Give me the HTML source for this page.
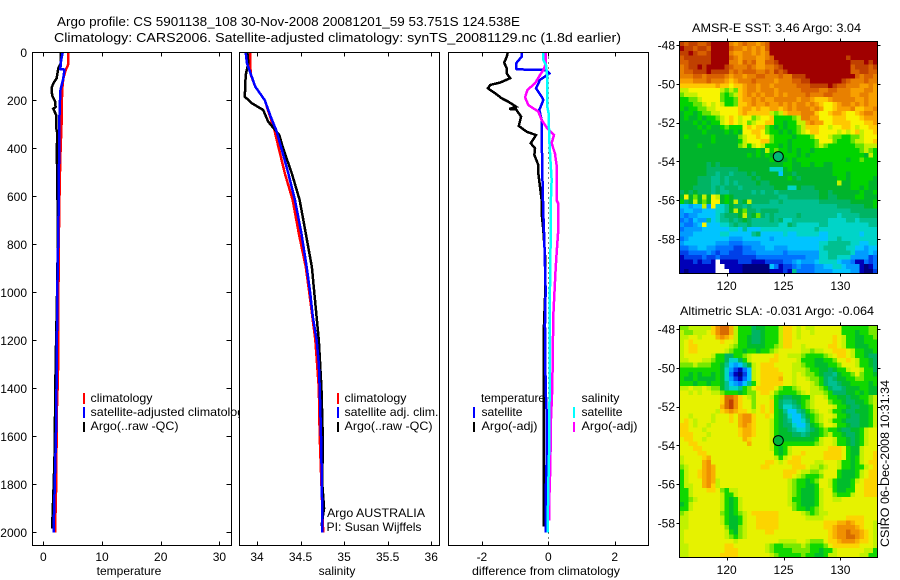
<!DOCTYPE html>
<html>
<head>
<meta charset="utf-8">
<title>Argo profile</title>
<style>
html,body{margin:0;padding:0;background:#fff;width:900px;height:580px;overflow:hidden}
svg{display:block}
text{font-family:"Liberation Sans",sans-serif;font-size:12px;fill:#000}
.frame{fill:none;stroke:#000;stroke-width:1.3;shape-rendering:crispEdges}
.panel-bg{fill:#fff;stroke:none}
.mark{shape-rendering:crispEdges}
</style>
</head>
<body>
<svg id="chart" width="900" height="580" viewBox="0 0 900 580" xmlns="http://www.w3.org/2000/svg">
  <rect x="0" y="0" width="900" height="580" fill="#fff"/>
  <text x="57" y="26" font-size="13" style="font-size:13px" textLength="463" lengthAdjust="spacingAndGlyphs">Argo profile: CS 5901138_108 30-Nov-2008 20081201_59 53.751S 124.538E</text>
  <text x="54" y="42" style="font-size:13px" textLength="567" lengthAdjust="spacingAndGlyphs">Climatology: CARS2006. Satellite-adjusted climatology: synTS_20081129.nc (1.8d earlier)</text>

  <g id="panel-temp">
    <rect class="panel-bg" x="32.5" y="52.5" width="199" height="493"/>
    <rect class="mark" x="83" y="393" width="2" height="11" fill="#ff0000"/>
    <rect class="mark" x="83" y="407" width="2" height="11" fill="#0000ff"/>
    <rect class="mark" x="83" y="422" width="2" height="10" fill="#000"/>
    <text x="90.5" y="402" textLength="62" lengthAdjust="spacingAndGlyphs">climatology</text>
    <text x="90.5" y="416" textLength="160" lengthAdjust="spacingAndGlyphs">satellite-adjusted climatology</text>
    <text x="90.5" y="430" textLength="88" lengthAdjust="spacingAndGlyphs">Argo(..raw -QC)</text>
    <g id="lines-temp"></g>
    <rect class="frame" x="32.5" y="52.5" width="199" height="493"/>
    <g id="ticks-temp"></g>
    <text x="129" y="575" text-anchor="middle">temperature</text>
  </g>

  <g id="panel-sal">
    <rect class="panel-bg" x="239.5" y="52.5" width="200" height="493"/>
    <rect class="mark" x="337" y="393" width="2" height="11" fill="#ff0000"/>
    <rect class="mark" x="337" y="407" width="2" height="11" fill="#0000ff"/>
    <rect class="mark" x="337" y="422" width="2" height="10" fill="#000"/>
    <text x="344.5" y="402" textLength="62" lengthAdjust="spacingAndGlyphs">climatology</text>
    <text x="344.5" y="416" textLength="94" lengthAdjust="spacingAndGlyphs">satellite adj. clim.</text>
    <text x="344.5" y="430" textLength="88" lengthAdjust="spacingAndGlyphs">Argo(..raw -QC)</text>
    <text x="327" y="517" textLength="98" lengthAdjust="spacingAndGlyphs">Argo AUSTRALIA</text>
    <text x="326.5" y="531" textLength="95" lengthAdjust="spacingAndGlyphs">PI: Susan Wijffels</text>
    <g id="lines-sal"></g>
    <rect class="frame" x="239.5" y="52.5" width="200" height="493"/>
    <g id="ticks-sal"></g>
    <text x="337" y="575" text-anchor="middle">salinity</text>
  </g>

  <g id="panel-diff">
    <rect class="panel-bg" x="448.5" y="52.5" width="200" height="493"/>
    <text x="481" y="402" textLength="64" lengthAdjust="spacingAndGlyphs">temperature</text>
    <rect class="mark" x="473" y="407" width="2" height="11" fill="#0000ff"/>
    <rect class="mark" x="473" y="422" width="2" height="10" fill="#000"/>
    <text x="481.5" y="416" textLength="41" lengthAdjust="spacingAndGlyphs">satellite</text>
    <text x="481.5" y="430" textLength="56" lengthAdjust="spacingAndGlyphs">Argo(-adj)</text>
    <text x="581.5" y="402" textLength="38" lengthAdjust="spacingAndGlyphs">salinity</text>
    <rect class="mark" x="573" y="407" width="2" height="11" fill="#00ffff"/>
    <rect class="mark" x="573" y="422" width="2" height="10" fill="#ff00ff"/>
    <text x="581.5" y="416" textLength="41" lengthAdjust="spacingAndGlyphs">satellite</text>
    <text x="581.5" y="430" textLength="56" lengthAdjust="spacingAndGlyphs">Argo(-adj)</text>
    <g id="lines-diff"></g>
    <rect class="frame" x="448.5" y="52.5" width="200" height="493"/>
    <g id="ticks-diff"></g>
    <text x="546" y="575" text-anchor="middle" textLength="148" lengthAdjust="spacingAndGlyphs">difference from climatology</text>
  </g>

  <g id="map-sst"></g>
  <text x="692" y="32" textLength="169" lengthAdjust="spacingAndGlyphs">AMSR-E SST: 3.46 Argo: 3.04</text>

  <g id="map-sla"></g>
  <text x="680" y="315" textLength="194" lengthAdjust="spacingAndGlyphs">Altimetric SLA: -0.031 Argo: -0.064</text>

  <text transform="translate(889,547) rotate(-90)" textLength="167" lengthAdjust="spacingAndGlyphs">CSIRO 06-Dec-2008 10:31:34</text>
</svg>

<script>
// ---------- axis tick values ----------
const depthTicks = [0, 200, 400, 600, 800, 1000, 1200, 1400, 1600, 1800, 2000];
const tempTicks = [0, 10, 20, 30];
const salTicks = [34, 34.5, 35, 35.5, 36];
const salTickLabels = ['34', '34.5', '35', '35.5', '36'];
const diffTicks = [-2, 0, 2];
const lonTicks = [120, 125, 130];
const latTicks = [48, 50, 52, 54, 56, 58];

// ---------- temperature panel ----------
const tempClimDepth = [0, 50, 75, 110, 160, 270, 325, 435, 670, 920, 1150, 1350, 1500, 1800, 2000];
const tempClimValue = [4.26, 4.26, 3.8, 3.4, 3.2, 3.15, 3.07, 2.9, 2.7, 2.6, 2.55, 2.5, 2.3, 2.2, 2.0];
const tempArgoDepth = [0, 45, 67, 108, 130, 147, 180, 205, 228, 235, 262, 315, 340, 400, 585, 740, 1000, 1300, 1500, 1650, 1800, 1950, 1985];
const tempArgoValue = [3.0, 3.0, 2.55, 2.27, 1.7, 1.43, 1.5, 2.0, 2.1, 1.7, 2.2, 2.2, 2.4, 2.3, 2.4, 2.5, 2.35, 2.1, 2.0, 1.95, 1.77, 1.55, 1.55];
const tempSatDepth = [0, 40, 70, 72, 110, 160, 270, 670, 980, 1400, 1550, 1800, 2000];
const tempSatValue = [3.3, 3.0, 2.9, 3.6, 3.4, 2.9, 2.75, 2.6, 2.4, 2.25, 2.2, 1.95, 1.75];

// ---------- salinity panel ----------
const salClimDepth = [0, 46, 95, 143, 200, 268, 324, 400, 505, 616, 755, 894, 1000, 1200, 1400, 1600, 1800, 2000];
const salClimValue = [33.92, 33.92, 33.93, 33.98, 34.09, 34.15, 34.2, 34.25, 34.32, 34.41, 34.48, 34.56, 34.6, 34.67, 34.71, 34.72, 34.74, 34.76];
const salArgoDepth = [0, 46, 95, 185, 212, 240, 290, 324, 345, 400, 505, 616, 755, 894, 991, 1200, 1400, 1600, 1800, 1900, 1975];
const salArgoValue = [33.89, 33.9, 33.87, 33.86, 33.94, 34.07, 34.13, 34.21, 34.256, 34.3, 34.4, 34.49, 34.56, 34.63, 34.655, 34.71, 34.74, 34.755, 34.75, 34.77, 34.74];
const salSatDepth = [0, 46, 143, 200, 268, 324, 400, 505, 616, 755, 894, 1000, 1100, 1200, 1300, 1400, 1600, 1800, 2000];
const salSatValue = [33.87, 33.885, 33.98, 34.09, 34.157, 34.22, 34.28, 34.36, 34.436, 34.51, 34.57, 34.61, 34.64, 34.685, 34.71, 34.72, 34.735, 34.745, 34.75];

// ---------- difference panel ----------
const diffTempArgoDepth = [0, 18, 43, 67, 88, 108, 126, 136, 150, 171, 192, 206, 227, 236, 238, 268, 307, 331, 345, 379, 400, 428, 470, 505, 560, 616, 671, 741, 783, 838, 922, 991, 1136, 1976];
const diffTempArgoValue = [-1.22, -1.25, -1.33, -1.25, -1.25, -1.15, -1.45, -1.75, -1.82, -1.6, -1.4, -1.2, -0.97, -1.18, -0.97, -0.82, -0.89, -0.65, -0.37, -0.53, -0.4, -0.42, -0.3, -0.3, -0.25, -0.2, -0.2, -0.15, -0.13, -0.1, -0.09, -0.09, -0.13, -0.13];
const diffTempSatDepth = [0, 18, 46, 67, 71, 74, 88, 115, 150, 185, 199, 240, 282, 324, 505, 671, 783, 991, 1136, 1400, 1500, 1700, 1800, 2000];
const diffTempSatValue = [-0.8, -0.8, -0.97, -0.97, -0.95, -0.07, 0.03, -0.25, -0.37, -0.2, -0.15, -0.27, -0.2, -0.2, -0.18, -0.15, -0.12, -0.08, -0.1, -0.08, -0.05, -0.05, -0.07, -0.07];
const diffSalArgoDepth = [0, 46, 74, 95, 129, 157, 188, 220, 247, 282, 317, 345, 379, 421, 470, 616, 630, 741, 838, 905, 1100, 1400, 1530, 1730, 1860, 1950];
const diffSalArgoValue = [-0.08, -0.07, -0.15, -0.25, -0.4, -0.63, -0.7, -0.6, -0.3, -0.2, -0.03, 0.17, 0.1, 0.2, 0.25, 0.25, 0.3, 0.3, 0.25, 0.22, 0.15, 0.12, 0.08, 0.06, 0.03, 0.03];
const diffSalSatDepth = [0, 32, 53, 101, 227, 254, 366, 463, 532, 644, 783, 991, 1136, 1400, 1700, 1800, 2000];
const diffSalSatValue = [-0.15, -0.15, -0.07, -0.03, -0.03, 0.01, 0.03, 0.07, 0.1, 0.07, 0.07, 0.05, 0.05, 0.04, 0.02, 0, -0.02];

// ---------- map locations ----------
const argoLon = 124.538;
const argoLat = 53.751;

// ---------- gridded fields, one code per cell (0 = coldest/lowest ... j = warmest/highest, w = no data) ----------
const sstRows = [
"ihiihhijjjjgfghggfghjjjjjjjjjjjjjjjjjjjjjjjj",
"jiihiihjjjjhggfgfgfhjjjjjjjjjjjjjjjjjjjjjjjj",
"iijihhijjjjgffggfgfgjjjjjjjjjjjjjjjjjjjjjjjj",
"hiiiiiijjjjhgfgggffghjjjjjjjjjjjjjjjjijjjjjj",
"hhiiiiijjjjggfhghffhhijjjjjjjjjjjjjjjjiiijij",
"ghiijijjjjihggghgffgghijjjjjjjjjjjjjjjhiiihi",
"ghhiiijiiiighghhhgghgihijjjjjjjjjjjjjjhhiihh",
"ggghhghhhhgfggfgghhggghggiiijjjjjjjjjjjhghhg",
"fffggghgggfefggghggggfggghhiijjjjjjjihggghgg",
"eeeeeeeefeedeefggfggfggggghhhiiiijihhgggffgf",
"ccdddddddcbcbefggfgggfggggghhhhgghhgggfffggf",
"bcccdddddbabcefgfgfggfgfgggghggghhggggffggff",
"aabbcddddbaabeffgfgffgggggfggfeeefgggggffgff",
"aaabbcdcdcaabeefgffgffgfgfggfgfeddefggfgfgff",
"a9aabbccdddddeffefeeffefgfgggfgfddefffgeeffg",
"9aa9abbccddddefeeeeecbcefffgggeddeffeddefggf",
"9a99a9aabcdedcddbcddeaaaabcggffdddeeeddd" + "efff",
"999a9a9aacdedcdbcddeeaa9aaccfgffddeeeedd" + "deef",
"9999a9a99abaaadedeeba9a9aabceeeddcddeedc" + "ddee",
"99999a9999a9a9ddeedbaa9a9abcdeeddddcdcde" + "cdde",
"9a99999a99999bcddeddbaaaa9aaabdddcbbaabb" + "cddd",
"9999999a99999acdddeebaaa9aaaaabdddbaaabc" + "cdde",
"9999a99999999bcacdcaaa9a9aaaaabcbaaaaaab" + "bccc",
"99999999999999999a9cabaa9a9aa9aaaaaaaaaa" + "bcba",
"999999999999999a9a9a9a9aaa9a9aaaaaaaaaaaa9ca",
"99999999999999999999a999a9aaaaaaaaaaa9aabaaa",
"99999989899999999999999aa99aa9aa99aaaaaaaaaa",
"999999888888899999996669a999999999aaaaaaaaaa",
"9999998878878889899999599899999999aaa9aaaaaa",
"999988877878888898999999a9899999999aa9aaaaa9",
"99998887787878888988999999999999999c99aaaa99",
"99988887878887888888899966988899999999aa9a99",
"8989888787788888787887888888888998999999a99a",
"9d9b9c9dc9a9888888888877888888899889999aa999",
"a89c9b9dd9a9c89c888877877777777888888899999a",
"55455c4d66798878777777777777777777788888899a",
"455445556 79c9b8878888777777777777777788888".replace(' ', '6'),
"43445555678889c89b87877777877777777677778888",
"34354475677878987777878667777777766667767777",
"43345d55566787787777776687666667766666666677",
"34444555555665755566666666666676666666666666",
"44455555566555557855555655666665566666665666",
"34555555555444555555455555555555566766666666",
"45555555444333444455555555555556677777665566",
"33445544333322334445544455555556777776655455",
"22333343233222333444444344444446677777644454",
"12222322322222222333333333334446677666444423",
"11121221w11112221112222334544456666544311323",
"11111111ww1111000000531223433344556654441013",
"10111111www111000000111217333344445555441002"
];
const slaRows = [
"bbccccceghhfcaaa899aaaceedcdccddddddaaaaaabb",
"cbbcccdeghhfcaaa889aaaceedcddcddddddaaa9aabb",
"ccddcdddfgfecaa9889aaaceedcdddddddedcaa99aab",
"cdeddddddeddcaa9889aaaceedddddddddedcaa99aaa",
"cdeedddddddcbaa9999aabceeddcdddddeedcaa999aa",
"cdeeddddddcbaa9aa9aabcdddddccbccddeeedcaa99a",
"cddddddcaa88aabcdddddeddcccbaaaabcdeedcaa988",
"ccdddccbaa8668acddddeeddddcaaa99aabddedcaa98",
"bbbcbbbaa9754579cdeeeddddccbaa999aabdddcaa98",
"aaaaaaaaa9642135cdeeeedddcccbaa9989aacddcaa8",
"aa9a9aa9a9631025cdeeeeeddcdcbba98879aabdbaa9",
"a99a9999a9642135cdeeeefddcddcbba87899aabbaaa",
"aaa9aa9aa9754357adeeeeeddcdddcba877899aaaa9a",
"ccdccdcbb97667abdeeeedbaabcddccba8778999aa99",
"ddcdcddccbaaa9abbdeedbaaaabcdcccba88899a9a99",
"dddddddddehhgedcbdddca98899aacddcaa99899aabc",
"dddddddddehigeddbdddea87789abcdddbaa98899abc",
"dddddddddfhigeddbdedea86678abcddddcaa98899ac",
"ddddddddcefgfeedcdedea975578abcddcaa988999ac",
"ddcddddcdddedfggeddeda9865579abcddcaa98899ac",
"dedcdddcdddedfggedddca9875568abcdcaa988899ac",
"eedcddcddddddfgfedddca98865579abddcaa98899ac",
"eedddcdddddddeffedddca998766789abaa98899acdd",
"eeedddcddddddeffedddca999887899abcaa9889acdd",
"deeddcddddddddfeddddcaa9999999acddcaa989acdd",
"ddeedddddddddddfddddcaaaaaaaaabcddcaa989acdd",
"dddeedddddddddddddddca9acddddddddeeeda99cddd",
"ddddeeddddddddddddddda9acddeddddeeeeda99cdde",
"cddddefddddddddddddddcacdeedddddeeeeda9acdde",
"cddddfgddddddddddddeedcdeeedddccdddcaa9acdee",
"bcdddfgfddddddddddeedddddeeedccbcddcaa9aacdee".slice(0, 44),
"acddefgfdddddddddddddddeeedccbbcddda999acdee",
"acddefgfdddddddddddddddeedcbaaabddda999acdee",
"acdddfgfcdddddddddddddddcbaa9abddca999acdeee".slice(0, 44),
"accddfgecdddddddddddddddcbaa99addca999addee",
"aacdddeedbaccdddddddddddcba999acdda99aaddee",
"aacddddddcaacdddddddddddcba999acddbaaacddee",
"aabcdddddca9acddddddddddcaa999acddccddddddd",
"9acddddddca9acddddddddddcba999acdddddddddddd",
"aacddddddca9acdddddddddddbaa9abcdddddddddddd",
"bcdddddddba9abcdeeeeeedddddcbabccddddddddddd",
"ccdddddddca99acddeeeeeddddddccccdddddeeeeddd",
"ccdddddddca99acddeeeeeddddddddddeeeffgfeeddc",
"ccddddddddb99bcddeeeeeddddddddddeefggggfeddc",
"cdddddddddca9bcddddeeddddddddddddefgghggfedc",
"cdddddddddcbabcddddddddddddddddddefgghhgfedc",
"cdddddddddddcdddddddddccccddcbbbdeefgggfeedc",
"ccddddddddeedddddddcbaabbbbcbaaabdeeeeeedddc",
"ccddddddddeeeddddddcbaaaabbbbaa9aacddddddcca",
"ccdddddddeeeedddddddcbaaaaabaa99accdddddccaa"
];

// ---------- cell colour per code ----------
const sstColors = {
  '0':'#00007c','1':'#0000b8','2':'#0040e8','3':'#0072ff','4':'#009cff','5':'#00c4ff',
  '6':'#00d4c8','7':'#00c090','8':'#00b464','9':'#00b42c','a':'#00d400','b':'#64e400',
  'c':'#c4f000','d':'#f8f400','e':'#ffc800','f':'#f8a000','g':'#e88000','h':'#d86000',
  'i':'#c04000','j':'#a00000','w':'#ffffff'
};
const slaColors = {
  '0':'#00007c','1':'#0000b8','2':'#0040e8','3':'#0072ff','4':'#009cff','5':'#00c4ff',
  '6':'#00d4c8','7':'#00c090','8':'#00b464','9':'#00bc2c','a':'#10d800','b':'#78e800',
  'c':'#c0f200','d':'#e6f200','e':'#fcd400','f':'#f8b000','g':'#f09000','h':'#d86c00',
  'i':'#c04000','j':'#a00000','w':'#ffffff'
};

// ---------- scales ----------
const SVG_NS = 'http://www.w3.org/2000/svg';
function yDepth(d) { return 52.3 + d * 0.24; }
function xTemp(v) { return 43.3 + v * 5.87; }
function xSal(v) { return 257 + (v - 34) * 87.1; }
function xDiff(v) { return 548.3 + v * 33.2; }
function xLon(v) { return 726.7 + (v - 120) * 11.37; }
function yLat(v, y48) { return y48 + (v - 48) * 19.4; }

function make(tag, parent) {
  const el = document.createElementNS(SVG_NS, tag);
  parent.appendChild(el);
  return el;
}

function drawLine(parent, depths, values, xScale, color, name) {
  const line = make('polyline', parent);
  
  
  const pts = [];
  for (let i = 0; i < depths.length; i++) {
    pts.push(xScale(values[i]).toFixed(2) + ',' + yDepth(depths[i]).toFixed(2));
  }
  line.setAttribute('points', pts.join(' '));
  line.setAttribute('fill', 'none');
  line.setAttribute('stroke', color);
  line.setAttribute('stroke-width', '2.5');
  line.setAttribute('class', 'mark');
}

function tickLine(parent, x1, y1, x2, y2, name) {
  const t = make('line', parent);
  
  
  t.setAttribute('x1', x1);
  t.setAttribute('y1', y1);
  t.setAttribute('x2', x2);
  t.setAttribute('y2', y2);
  t.setAttribute('stroke', '#000');
  t.setAttribute('stroke-width', '1');
  t.setAttribute('class', 'mark');
}

function tickText(parent, x, y, anchor, str, name) {
  const t = make('text', parent);
  
  
  t.setAttribute('x', x);
  t.setAttribute('y', y);
  t.setAttribute('text-anchor', anchor);
  t.textContent = str;
}

function drawXTicks(parent, ticks, labels, xScale) {
  ticks.forEach(function (v, i) {
    const x = Math.round(xScale(v)) + 0.5;
    tickLine(parent, x, 52.5, x, 56.5, 'x-tick-top');
    tickLine(parent, x, 545.5, x, 541.5, 'x-tick-bottom');
    tickText(parent, xScale(v), 561, 'middle', labels[i], 'x-tick-label');
  });
}

// ---------- temperature panel ----------
const linesTemp = document.getElementById('lines-temp');
drawLine(linesTemp, tempClimDepth, tempClimValue, xTemp, '#ff0000', 'temperature-climatology-line');
drawLine(linesTemp, tempArgoDepth, tempArgoValue, xTemp, '#000000', 'temperature-argo-line');
drawLine(linesTemp, tempSatDepth, tempSatValue, xTemp, '#0000ff', 'temperature-satellite-line');
const ticksTemp = document.getElementById('ticks-temp');
drawXTicks(ticksTemp, tempTicks, tempTicks.map(String), xTemp);
depthTicks.forEach(function (d) {
  const y = Math.round(yDepth(d)) + 0.5;
  tickLine(ticksTemp, 32.5, y, 36.5, y, 'depth-tick-left');
  tickLine(ticksTemp, 231.5, y, 226.5, y, 'depth-tick-right');
  tickText(ticksTemp, 27, yDepth(d) + 4.5, 'end', String(d), 'depth-tick-label');
});

// ---------- salinity panel ----------
const linesSal = document.getElementById('lines-sal');
drawLine(linesSal, salClimDepth, salClimValue, xSal, '#ff0000', 'salinity-climatology-line');
drawLine(linesSal, salArgoDepth, salArgoValue, xSal, '#000000', 'salinity-argo-line');
drawLine(linesSal, salSatDepth, salSatValue, xSal, '#0000ff', 'salinity-satellite-line');
drawXTicks(document.getElementById('ticks-sal'), salTicks, salTickLabels, xSal);

// ---------- difference panel ----------
const linesDiff = document.getElementById('lines-diff');
const zeroLine = make('line', linesDiff);


zeroLine.setAttribute('x1', xDiff(0));
zeroLine.setAttribute('x2', xDiff(0));
zeroLine.setAttribute('y1', yDepth(0));
zeroLine.setAttribute('y2', 545);
zeroLine.setAttribute('stroke', '#000');
zeroLine.setAttribute('stroke-width', '1');
zeroLine.setAttribute('stroke-dasharray', '1 4');
zeroLine.setAttribute('class', 'mark');
drawLine(linesDiff, diffTempArgoDepth, diffTempArgoValue, xDiff, '#000000', 'temperature-argo-difference-line');
drawLine(linesDiff, diffTempSatDepth, diffTempSatValue, xDiff, '#0000ff', 'temperature-satellite-difference-line');
drawLine(linesDiff, diffSalArgoDepth, diffSalArgoValue, xDiff, '#ff00ff', 'salinity-argo-difference-line');
drawLine(linesDiff, diffSalSatDepth, diffSalSatValue, xDiff, '#00ffff', 'salinity-satellite-difference-line');
drawXTicks(document.getElementById('ticks-diff'), diffTicks, diffTicks.map(String), xDiff);

// ---------- maps ----------
function drawMap(group, rows, colors, box, circleColor, labelY, prefix) {
  const cells = make('g', group);
  
  
  cells.setAttribute('class', 'mark');
  const nRows = rows.length;
  const nCols = 44;
  const cw = (box.right - box.left) / nCols;
  const ch = (box.bottom - box.top) / nRows;
  rows.forEach(function (row, r) {
    for (let c = 0; c < nCols; c++) {
      const code = row.charAt(Math.min(c, row.length - 1));
      const cell = make('rect', cells);
      
      
      cell.setAttribute('x', (box.left + c * cw).toFixed(2));
      cell.setAttribute('y', (box.top + r * ch).toFixed(2));
      cell.setAttribute('width', (cw + 0.4).toFixed(2));
      cell.setAttribute('height', (ch + 0.4).toFixed(2));
      cell.setAttribute('fill', colors[code]);
    }
  });
  const frame = make('rect', group);
  
  
  frame.setAttribute('class', 'frame');
  frame.setAttribute('x', box.left);
  frame.setAttribute('y', box.top);
  frame.setAttribute('width', box.right - box.left);
  frame.setAttribute('height', box.bottom - box.top);
  lonTicks.forEach(function (v) {
    const x = Math.round(xLon(v)) + 0.5;
    tickLine(group, x, box.top, x, box.top - 3, prefix + '-lon-tick-top');
    tickLine(group, x, box.bottom, x, box.bottom + 3, prefix + '-lon-tick-bottom');
    tickText(group, xLon(v), labelY, 'middle', String(v), prefix + '-lon-label');
  });
  latTicks.forEach(function (v) {
    const y = Math.round(yLat(v, box.y48)) + 0.5;
    tickLine(group, box.left, y, box.left - 3, y, prefix + '-lat-tick-left');
    tickLine(group, box.right, y, box.right + 3, y, prefix + '-lat-tick-right');
    tickText(group, 675, yLat(v, box.y48) + 4.5, 'end', '-' + v, prefix + '-lat-label');
  });
  const marker = make('circle', group);
  
  
  marker.setAttribute('cx', xLon(argoLon));
  marker.setAttribute('cy', yLat(argoLat, box.y48));
  marker.setAttribute('r', '5');
  marker.setAttribute('fill', circleColor);
  marker.setAttribute('stroke', '#000');
  marker.setAttribute('stroke-width', '1');
}

drawMap(document.getElementById('map-sst'), sstRows, sstColors,
  {left: 679.5, right: 877.5, top: 41.5, bottom: 273.5, y48: 45}, '#00b878', 290, 'sst-map');
drawMap(document.getElementById('map-sla'), slaRows, slaColors,
  {left: 679.5, right: 877.5, top: 325.5, bottom: 557.5, y48: 329}, '#00b43c', 574, 'sla-map');
</script>
</body>
</html>
